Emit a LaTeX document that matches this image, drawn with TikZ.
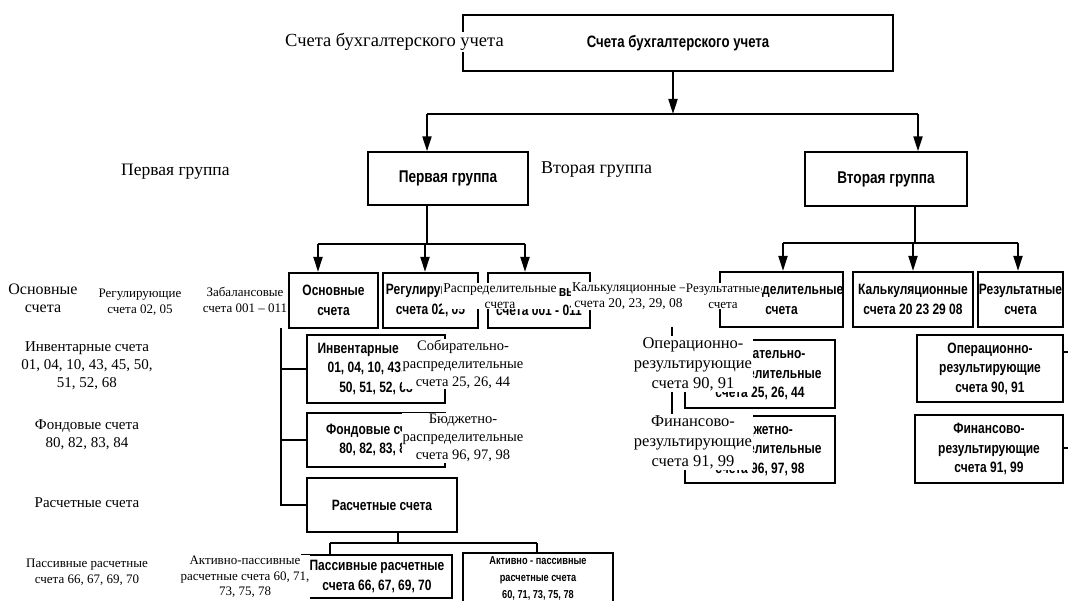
\documentclass[tikz,border=0pt]{standalone}
\usepackage{fontspec}
\setmainfont{Liberation Serif}
\newfontfamily\bxf[FakeStretch=0.8]{Liberation Sans}
\usetikzlibrary{arrows.meta}
\tikzset{
 bx/.style={draw=black, line width=2.2pt, inner sep=0pt, align=center, font=\bxf\bfseries\fontsize{15}{19.5}\selectfont},
 thinbx/.style={bx, line width=1.4pt},
 ln/.style={line width=2pt},
 thinln/.style={line width=1.3pt},
 ar/.style={line width=2pt, -{Triangle[width=9pt,length=15pt]}},
 lab/.style 2 args={fill=white, inner sep=1pt, align=center, font=\fontsize{#1}{#2}\selectfont},
}
\begin{document}
\begin{tikzpicture}[x=1pt,y=-1pt]
\useasboundingbox (0,0) rectangle (1068,601);
\fill[white] (0,0) rectangle (1068,601);
\clip (0,0) rectangle (1068,601);
% boxes
\node[bx, line width=2pt, minimum width=430, minimum height=56, font=\bxf\bfseries\fontsize{16.5}{19}\selectfont] (top) at (678,43) {Счета бухгалтерского учета};
\node[thinbx, minimum width=160, minimum height=53, font=\bxf\bfseries\fontsize{17}{19}\selectfont] (p1) at (448,178.5) {Первая группа};
\node[thinbx, minimum width=162, minimum height=54, font=\bxf\bfseries\fontsize{17}{19}\selectfont] (p2) at (886,179) {Вторая группа};
\node[bx, minimum width=89, minimum height=55] (osn) at (333.5,300.5) {Основные\\счета};
\node[bx, minimum width=95, minimum height=55] (reg) at (430.5,300.5) {Регулирующие\\счета 02, 05};
\node[bx, minimum width=102, minimum height=55] (zab) at (539,300.5) {Забалансовые\\счета 001 - 011};
\node[bx, minimum width=123, minimum height=55] (rsp) at (781.5,299.5) {Распределительные\\счета};
\node[bx, minimum width=120, minimum height=55] (kal) at (913,299.5) {Калькуляционные\\счета 20 23 29 08};
\node[bx, minimum width=85, minimum height=55] (rez) at (1020.5,299.5) {Результатные\\счета};
\node[bx, minimum width=138, minimum height=68] (inv) at (376,369) {Инвентарные счета\\01, 04, 10, 43, 45,\\50, 51, 52, 68};
\node[bx, minimum width=138, minimum height=54] (fnd) at (376,440) {Фондовые счета\\80, 82, 83, 84};
\node[thinbx, minimum width=150, minimum height=54] (rch) at (382,505) {Расчетные счета};
\node[bx, minimum width=150, minimum height=43] (pas) at (377,576.5) {Пассивные расчетные\\счета 66, 67, 69, 70};
\node[bx, minimum width=150, minimum height=50, font=\bxf\bfseries\fontsize{11.5}{17}\selectfont] (akp) at (538,578) {Активно - пассивные\\расчетные счета\\60, 71, 73, 75, 78};
\node[bx, minimum width=150, minimum height=68] (sob) at (760,374) {Собирательно-\\распределительные\\счета 25, 26, 44};
\node[bx, minimum width=150, minimum height=67] (bud) at (760,449.5) {Бюджетно-\\распределительные\\счета 96, 97, 98};
\node[bx, minimum width=146, minimum height=67] (opr) at (990,368.5) {Операционно-\\результирующие\\счета 90, 91};
\node[bx, minimum width=148, minimum height=68] (fin) at (989,449) {Финансово-\\результирующие\\счета 91, 99};
% connectors top
\coordinate (j1) at (673,114);
\coordinate (a1) at (427,114);
\coordinate (a2) at (918,114);
\draw[ar] (top.south -| j1) -- (j1);
\draw[ln] (a1) -- (a2);
\draw[ar] (a1) -- (a1 |- p1.north);
\draw[ar] (a2) -- (a2 |- p2.north);
% group 1
\coordinate (b0) at (427,244);
\coordinate (b1) at (318,244);
\coordinate (b2) at (425,244);
\coordinate (b3) at (525,244);
\draw[ln] (b0 |- p1.south) -- (b0);
\draw[ln] (b1) -- (b3);
\draw[ar] (b1) -- (b1 |- osn.north);
\draw[ar] (b2) -- (b2 |- reg.north);
\draw[ar] (b3) -- (b3 |- zab.north);
% group 2
\coordinate (c0) at (915,243);
\coordinate (c1) at (783,243);
\coordinate (c2) at (913,243);
\coordinate (c3) at (1018,243);
\draw[ln] (c0 |- p2.south) -- (c0);
\draw[ln] (c1) -- (c3);
\draw[ar] (c1) -- (c1 |- rsp.north);
\draw[ar] (c2) -- (c2 |- kal.north);
\draw[ar] (c3) -- (c3 |- rez.north);
% group 1 sub
\coordinate (v1) at (281,328);
\draw[ln] (v1) |- (rch.west);
\draw[ln] (v1 |- inv.west) -- (inv.west);
\draw[ln] (v1 |- fnd.west) -- (fnd.west);
% raschetnye children
\coordinate (d0) at (398,543);
\coordinate (d1) at (330,543);
\coordinate (d2) at (537,543);
\draw[thinln] (d0 |- rch.south) -- (d0);
\draw[thinln] (d1) -- (d2);
\draw[thinln] (d1) -- (d1 |- pas.north);
\draw[thinln] (d2) -- (d2 |- akp.north);
% group 2 sub
\coordinate (v2) at (672,327);
\draw[ln] (v2) |- (bud.west);
\draw[ln] (v2 |- sob.west) -- (sob.west);
% stubs right
\coordinate (s1) at (1072,352);
\coordinate (s2) at (1072,448);
\draw[ln] (opr.east |- s1) -- (s1);
\draw[ln] (fin.east |- s2) -- (s2);
% overlay labels
\node[lab={18.5}{21}, anchor=west] (l1) at (284,42) {Счета бухгалтерского учета};
\node[lab={17.5}{20}, anchor=west] (l2) at (120,172) {Первая группа};
\node[lab={18}{21}, anchor=west] (l3) at (540,170) {Вторая группа};
\node[lab={16}{18}] (l4) at (43,298) {Основные\\счета};
\node[lab={13}{16}] (l5) at (140,302) {Регулирующие\\счета 02, 05};
\node[lab={13}{16}] (l6) at (245,300) {Забалансовые\\счета 001 – 011};
\node[lab={13.5}{16}] (l7) at (500,296) {Распределительные\\счета};
\node[lab={13.5}{16}, anchor=west, align=left] (l8) at (571,296) {Калькуляционные —\\\,счета 20, 23, 29, 08};
\node[lab={13}{16}] (l9) at (723,296) {Результатные\\счета};
\node[lab={15}{18}] (l10) at (87,366) {Инвентарные счета\\01, 04, 10, 43, 45, 50,\\51, 52, 68};
\node[lab={15}{18}] (l11) at (87,435) {Фондовые счета\\80, 82, 83, 84};
\node[lab={15}{18}] (l12) at (87,503) {Расчетные счета};
\node[lab={13}{16}] (l13) at (87,572) {Пассивные расчетные\\счета 66, 67, 69, 70};
\node[lab={13}{15.5}] (l14) at (245,577) {Активно-пассивные\\расчетные счета 60, 71,\\73, 75, 78};
\node[lab={14.5}{18}] (l15) at (463,364) {Собирательно-\\распределительные\\счета 25, 26, 44};
\node[lab={14.5}{18}] (l16) at (463,438) {Бюджетно-\\распределительные\\счета 96, 97, 98};
\node[lab={16.5}{20}] (l17) at (693,364) {Операционно-\\результирующие\\счета 90, 91};
\node[lab={16.5}{20}] (l18) at (693,442) {Финансово-\\результирующие\\счета 91, 99};
\end{tikzpicture}
\end{document}
